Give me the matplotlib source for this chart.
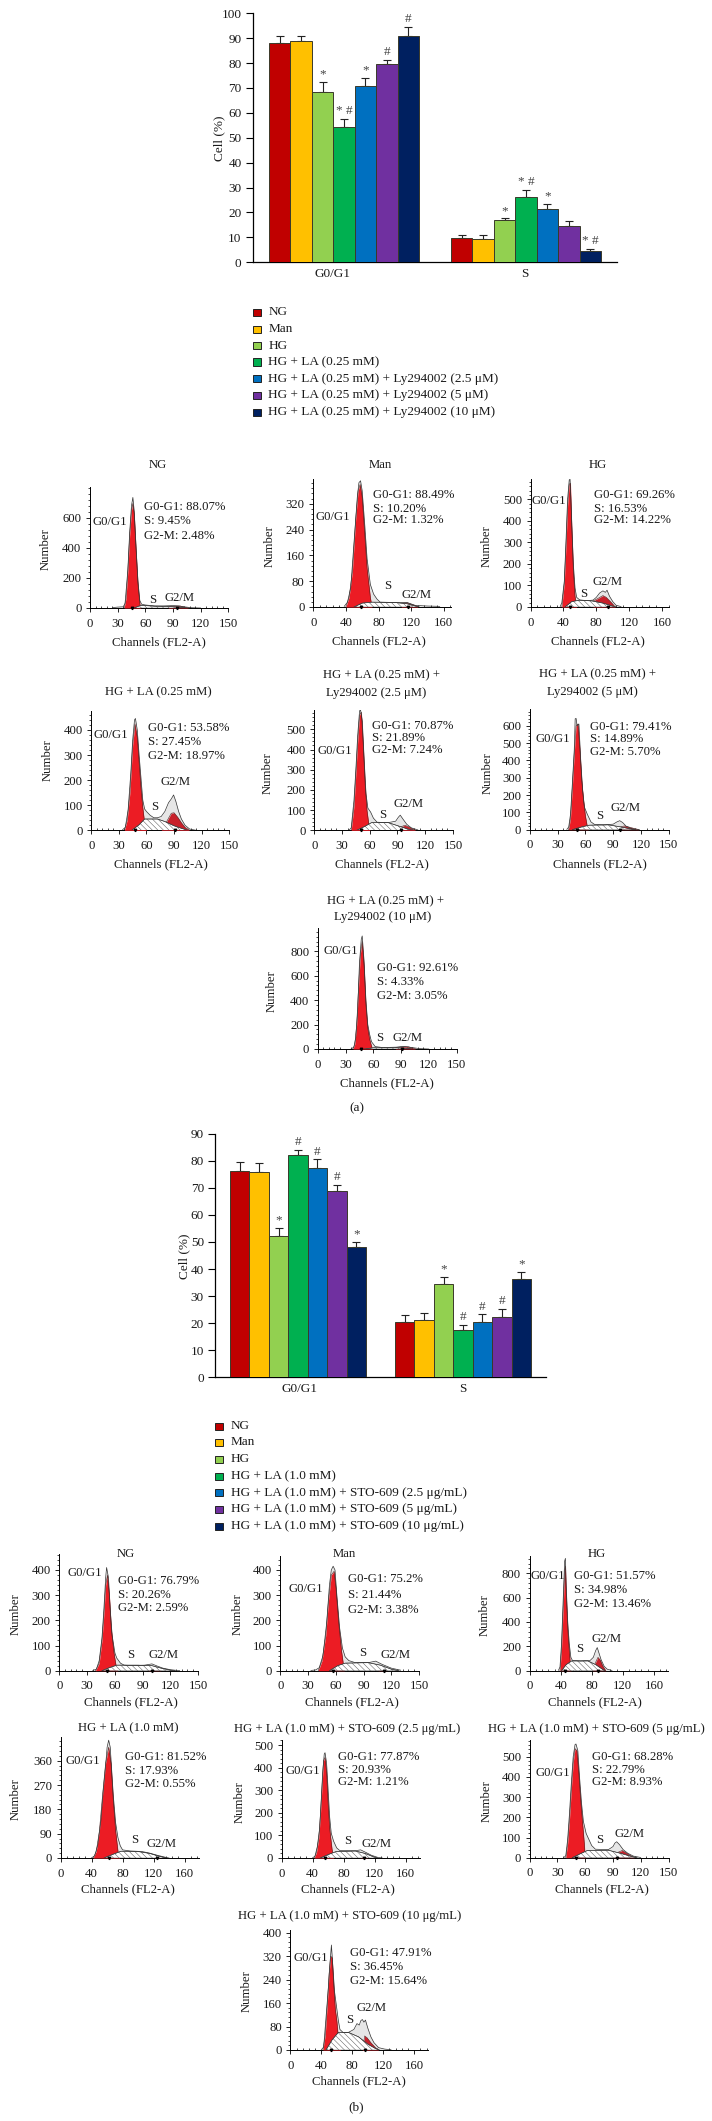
import matplotlib
matplotlib.use("Agg")
import matplotlib.pyplot as plt
from matplotlib.patches import Rectangle

plt.rcParams['font.family'] = ['Liberation Serif', 'DejaVu Serif']
plt.rcParams['hatch.linewidth'] = 0.35
W, H = 712, 2121
FS = 9.5
FS_HIST = 9.2
fig = plt.figure(figsize=(W / 100, H / 100), dpi=100, facecolor='white')

# ---------- data: bar charts ----------
bar_colors = ['#C00000', '#FFC000', '#92D050', '#00B050', '#0070C0', '#7030A0', '#002060']
groups = ['G0/G1', 'S']
a_g0 = [88, 89, 68.5, 54.5, 71, 79.5, 91]
a_g0_top = [91, 91, 72.5, 57.7, 74, 81.3, 94.5]
a_s = [9.8, 9.5, 16.8, 26.2, 21.3, 14.6, 4.7]
a_s_top = [10.9, 10.9, 17.6, 29, 23.4, 16.4, 5.4]
a_g0_marks = ['', '', '*', '* #', '*', '#', '#']
a_s_marks = ['', '', '*', '* #', '*', '', '* #']
a_legend = ['NG', 'Man', 'HG', 'HG + LA (0.25 mM)', 'HG + LA (0.25 mM) + Ly294002 (2.5 μM)',
            'HG + LA (0.25 mM) + Ly294002 (5 μM)', 'HG + LA (0.25 mM) + Ly294002 (10 μM)']
b_g0 = [76.3, 75.8, 52.3, 82, 77.2, 69, 48]
b_g0_top = [79.4, 79.2, 55, 84, 80.5, 71.2, 50]
b_s = [20.6, 21.3, 34.6, 17.4, 20.4, 22.2, 36.2]
b_s_top = [23.1, 23.6, 37, 19.4, 23.3, 25.4, 39]
b_g0_marks = ['', '', '*', '#', '#', '#', '*']
b_s_marks = ['', '', '*', '#', '#', '#', '*']
b_legend = ['NG', 'Man', 'HG', 'HG + LA (1.0 mM)', 'HG + LA (1.0 mM) + STO-609 (2.5 μg/mL)',
            'HG + LA (1.0 mM) + STO-609 (5 μg/mL)', 'HG + LA (1.0 mM) + STO-609 (10 μg/mL)']

# ---------- data: histograms (channel, count) ----------
a1_env = [(25,3),(30,6),(36,8),(38,30),(41,250),(43,500),(45,680),(46.5,735),(48,640),(50,400),(52,180),(54,50),(56,25),(60,20),(70,14),(80,14),(90,16),(96,14),(102,8),(110,2),(120,0)]
a1_g1 = [(37,0),(39,60),(41,240),(43,480),(45,650),(46.5,695),(48,620),(50,380),(52,160),(54,30),(55,0)]
a1_s = [(48,0),(55,18),(70,12),(85,10),(100,4),(105,0)]
a1_g2 = [(85,10),(92,12),(98,13),(103,5),(108,0)]
a2_env = [(38,2),(42,15),(46,60),(50,200),(54,340),(56,385),(58,391),(60,360),(63,260),(66,150),(70,70),(74,40),(78,25),(82,15),(100,14),(115,14),(125,5),(140,3),(155,2)]
a2_g1 = [(40,0),(44,30),(48,110),(52,270),(55,360),(57.5,380),(60,340),(63,230),(66,120),(70,30),(72,0)]
a2_s = [(50,0),(60,12),(72,15),(100,14),(115,10),(125,3),(130,0)]
a2_g2 = [(108,12),(115,13),(122,7),(128,2)]
a3_env = [(36,2),(38,20),(41,120),(43,300),(45,500),(47,590),(48,593),(50,400),(52,200),(54,90),(56,45),(60,32),(70,30),(76,32),(80,45),(84,65),(88,75),(91,68),(93,78),(96,50),(100,25),(104,8),(110,2)]
a3_g1 = [(38,0),(41,110),(43,280),(45,470),(47,570),(48.5,575),(50,380),(52,170),(54,50),(56,0)]
a3_s = [(42,0),(50,25),(60,32),(75,28),(88,18),(100,4),(104,0)]
a3_g2 = [(76,28),(82,40),(88,53),(92,45),(98,22),(103,0)]
a4_env = [(34,2),(37,12),(40,80),(43,230),(45,360),(47,440),(48,446),(50,400),(52,300),(54,210),(56,120),(58,85),(60,75),(64,60),(68,50),(72,50),(76,55),(80,75),(84,110),(87,125),(89.5,141),(92,115),(95,75),(98,45),(102,20),(107,5),(114,0)]
a4_g1 = [(36,0),(39,40),(42,150),(45,340),(47.5,425),(50,370),(52,270),(54,170),(56,90),(58,30),(60,0)]
a4_s = [(44,0),(52,22),(58,45),(72,45),(80,35),(90,18),(98,8),(105,0)]
a4_g2 = [(76,0),(82,35),(87,68),(90,70),(94,52),(98,30),(102,12),(107,0)]
a5_env = [(38,2),(40,12),(43,150),(45,300),(47,470),(49,590),(50,599),(52,540),(54,350),(56,180),(58,110),(61,90),(64,60),(68,40),(80,38),(88,45),(91,65),(93,75),(96,55),(100,30),(105,12),(112,2)]
a5_g1 = [(40,0),(43,120),(45,280),(47,440),(49,570),(51,585),(53,420),(55,230),(57,100),(59,30),(60,0)]
a5_s = [(46,0),(55,20),(62,38),(80,38),(92,20),(102,5),(108,0)]
a5_g2 = [(94,18),(98,25),(102,18),(106,8),(110,0)]
a6_env = [(40,2),(42,15),(44,90),(46,270),(48,460),(49,640),(50,642),(51,600),(53,610),(55,400),(57,230),(59,130),(62,90),(66,45),(70,30),(80,28),(90,32),(94,45),(97,52),(100,42),(104,20),(110,6),(118,1)]
a6_g1 = [(42,0),(44,70),(46,250),(48,440),(50,600),(52,610),(54,470),(56,290),(58,170),(60,80),(62,20),(63,0)]
a6_s = [(46,0),(56,16),(64,26),(85,28),(98,16),(110,3),(114,0)]
a6_g2 = [(98,16),(102,22),(108,14),(114,5),(118,0)]
a7_env = [(36,1),(39,15),(41,90),(43,300),(45,700),(47,900),(48,926),(50,720),(52,400),(54,200),(56,120),(58,60),(62,20),(70,12),(85,15),(92,22),(100,14),(110,3),(120,0)]
a7_g1 = [(38,0),(40,40),(42,200),(44,500),(46,780),(48,880),(50,680),(52,360),(54,170),(56,80),(59,0)]
a7_s = [(50,0),(60,10),(85,10),(95,6),(102,0)]
a7_g2 = [(84,10),(92,18),(98,18),(106,0)]
b1_env = [(36,1),(40,6),(43,40),(46,130),(48,240),(50,370),(51,410),(53,370),(55,240),(57,140),(60,70),(62,50),(66,30),(70,22),(80,20),(92,22),(100,27),(106,18),(112,10),(120,4),(130,0)]
b1_g1 = [(39,0),(43,30),(46,120),(48,220),(50,340),(52,380),(54,300),(56,170),(59,70),(61,25),(63,0)]
b1_s = [(46,0),(54,12),(62,22),(85,22),(100,20),(110,10),(120,2),(125,0)]
b1_g2 = [(95,0),(103,3),(110,0)]
b2_env = [(33,1),(38,3),(42,12),(46,60),(50,190),(53,340),(55,400),(57,415),(59,400),(61,300),(64,170),(67,90),(70,55),(74,40),(80,33),(95,32),(103,38),(110,25),(120,10),(130,2)]
b2_g1 = [(41,0),(45,40),(49,140),(52,280),(55,380),(58,395),(60,330),(63,190),(66,80),(69,0)]
b2_s = [(53,0),(62,20),(70,30),(95,32),(108,22),(120,6),(128,0)]
b2_g2 = [(105,0),(110,2),(115,0)]
b3_env = [(37,3),(39,30),(41,220),(43,560),(45,900),(46,923),(47,700),(49,400),(51,220),(53,110),(55,85),(65,80),(78,85),(82,110),(85,165),(87,190),(89,150),(92,90),(96,35),(100,12),(106,2)]
b3_g1 = [(39,0),(41,180),(43,500),(45,820),(46,860),(47,640),(49,340),(51,160),(53,0)]
b3_s = [(41,0),(47,50),(54,80),(75,80),(85,50),(93,15),(97,0)]
b3_g2 = [(81,0),(85,70),(88,110),(91,85),(94,40),(98,0)]
b4_env = [(40,1),(44,8),(48,50),(52,140),(55,250),(58,340),(60,410),(62,436),(64,410),(66,320),(68,230),(71,130),(74,75),(77,45),(80,30),(90,26),(105,24),(115,18),(125,10),(135,3),(140,0)]
b4_g1 = [(42,0),(46,25),(50,100),(54,230),(58,350),(62,410),(65,350),(68,210),(71,100),(74,25),(76,0)]
b4_s = [(56,0),(66,12),(78,25),(100,24),(115,17),(128,6),(137,0)]
b4_g2 = [(120,0),(125,1),(130,0)]
b5_env = [(40,1),(43,8),(46,50),(49,130),(51,250),(53,380),(55,460),(56,466),(58,420),(60,300),(62,180),(64,110),(67,75),(71,45),(75,33),(95,32),(102,36),(108,26),(116,12),(124,3),(130,0)]
b5_g1 = [(42,0),(45,25),(48,90),(50,190),(52,310),(54,430),(56,445),(58,380),(60,240),(62,130),(65,40),(67,0)]
b5_s = [(50,0),(60,15),(70,28),(95,31),(108,20),(118,6),(124,0)]
b5_g2 = [(100,0),(106,2),(112,0)]
b6_env = [(37,1),(39,10),(41,90),(43,220),(45,370),(47,500),(49,560),(50,563),(52,530),(54,390),(56,270),(58,180),(61,120),(64,90),(67,60),(71,42),(85,40),(90,55),(92,72),(94,79),(97,65),(101,40),(106,22),(112,8),(120,1)]
b6_g1 = [(39,0),(41,70),(43,190),(45,340),(47,470),(49,540),(51,530),(53,420),(55,290),(57,180),(59,70),(60,0)]
b6_s = [(46,0),(54,18),(62,35),(85,37),(98,22),(110,6),(116,0)]
b6_g2 = [(91,0),(96,28),(100,36),(105,22),(110,8),(113,0)]
b7_env = [(40,1),(43,10),(46,110),(49,210),(51,290),(53,358),(55,280),(57,200),(60,140),(62,100),(64,70),(68,60),(75,60),(82,70),(86,90),(89,85),(91,100),(93,104),(95,95),(97,102),(100,75),(104,45),(108,25),(114,8),(122,3),(130,1)]
b7_g1 = [(42,0),(45,50),(48,170),(50,260),(52,320),(54,315),(56,220),(58,140),(60,100),(62,40),(64.5,0)]
b7_s = [(46,0),(54,35),(62,60),(75,60),(88,45),(100,20),(110,5),(115,0)]
b7_g2 = [(93,0),(96,48),(99,42),(104,25),(110,8),(114,0)]

# ---------- layout helpers (pixel coordinates, origin top-left) ----------
def T(x, y, s, ha='center', va='center', size=FS, rotation=0, color='#1a1a1a'):
    fig.text(x / W, 1 - y / H, s, ha=ha, va=va, fontsize=size, rotation=rotation, color=color)

def make_ax(left, right, top, bottom):
    ax = fig.add_axes([left / W, 1 - bottom / H, (right - left) / W, (bottom - top) / H])
    ax.patch.set_alpha(0)
    for side in ['top', 'right']:
        ax.spines[side].set_visible(False)
    return ax

def bar_chart(left, right, top, y0, yT, yTval, ystep, x_first, bw, gap, g0, g0t, s, st, m0, ms, ylabel_xy, glabels_xy):
    ax = make_ax(left, right, top, y0)
    ax.set_ylim(0, yTval * (y0 - top) / (y0 - yT))
    ax.set_xlim((left - x_first) / bw, (right - x_first) / bw)
    for off, vals, tops, marks in [(0, g0, g0t, m0), (7 + gap, s, st, ms)]:
        xs = [off + i + 0.5 for i in range(7)]
        ax.bar(xs, vals, width=1, color=bar_colors, edgecolor='#3a3a2a', linewidth=0.7, zorder=3)
        for i, x in enumerate(xs):
            ax.errorbar(x, vals[i], yerr=[[0], [tops[i] - vals[i]]], color='#222222', lw=0.8,
                        capsize=3.2, capthick=0.8, zorder=2)
            if marks[i]:
                ax.annotate(marks[i], (x, tops[i]), xytext=(0, 5.5), textcoords='offset points',
                            ha='center', va='center', fontsize=FS, color='#444444')
    ax.spines['bottom'].set_linewidth(0.9)
    ax.spines['left'].set_linewidth(0.9)
    ax.set_xticks([])
    ticks = list(range(0, yTval + 1, ystep))
    ax.set_yticks(ticks)
    ax.set_yticklabels([str(t) for t in ticks], fontsize=FS, color='#1a1a1a')
    ax.tick_params(axis='y', length=5, width=0.8, pad=3)
    T(*ylabel_xy, 'Cell (%)', rotation=90)
    T(*glabels_xy[0], groups[0])
    T(*glabels_xy[1], groups[1])

def legend(xbox, xtext, rows, labels):
    for y, lab, col in zip(rows, labels, bar_colors):
        fig.add_artist(Rectangle((xbox / W, 1 - (y + 3.5) / H), 7.5 / W, 7 / H, transform=fig.transFigure,
                                 facecolor=col, edgecolor='#222222', linewidth=0.7))
        T(xtext, y, lab, ha='left')

def hist(geom, ymajor, env, g1, s, g2, marks, title_items, stats, stats_x, stats_y, g0g1, s_lab, g2m, ylab, xlab):
    x0, xT, xTval, xEnd, xstep, yb, yT, yTval, top = geom
    ax = make_ax(x0, xEnd, top, yb)
    ax.set_xlim(0, xTval * (xEnd - x0) / (xT - x0))
    ax.set_ylim(0, yTval * (yb - top) / (yb - yT))
    ex, ey = zip(*env)
    ax.fill_between(ex, ey, color='#e6e6e6', lw=0, zorder=1)
    ax.plot(ex, ey, color='#333333', lw=0.5, zorder=6)
    gx, gy = zip(*g1)
    ax.fill_between(gx, gy, color='#EC1C24', lw=0, zorder=3)
    ax.plot(gx, gy, color='#552222', lw=0.4, zorder=3)
    hx, hy = zip(*g2)
    ax.fill_between(hx, hy, color='#C8202A', lw=0, zorder=3)
    ax.plot(hx, hy, color='#552222', lw=0.4, zorder=3)
    # the S phase lies over the lower parts of both red peaks
    sx, sy = zip(*s)
    ax.fill_between(sx, sy, facecolor='white', edgecolor='#555555', hatch='\\\\\\\\\\\\', lw=0.3, zorder=4)
    ax.plot(sx, sy, color='#333333', lw=0.5, zorder=5)
    for m in marks:
        ax.plot([m], [0], marker='v', ms=1.8, color='black', clip_on=False, zorder=7, lw=0)
    ax.set_xticks(list(range(0, xTval + 1, xstep)))
    ax.set_xticks([v * xstep / 5 for v in range(0, int((ax.get_xlim()[1]) * 5 / xstep) + 1)], minor=True)
    yt = list(range(0, yTval + 1, ymajor))
    ax.set_yticks(yt)
    ax.set_yticks([v * ymajor / 5 for v in range(0, int(ax.get_ylim()[1] * 5 / ymajor) + 1)], minor=True)
    ax.tick_params(axis='both', which='major', length=2.6, width=0.6, labelsize=FS_HIST, labelcolor='#1a1a1a')
    ax.tick_params(axis='x', which='major', pad=4.4)
    ax.tick_params(axis='y', which='major', pad=3.6)
    ax.tick_params(axis='x', which='minor', length=1.3, width=0.5, direction='in')
    ax.tick_params(axis='y', which='minor', length=1.3, width=0.5, direction='out')
    for sp in ['left', 'bottom']:
        ax.spines[sp].set_linewidth(0.7)
    for (tx, ty, ts) in title_items:
        T(tx, ty, ts, size=FS_HIST)
    for line, y in zip(stats, stats_y):
        T(stats_x, y, line, ha='left', size=FS_HIST)
    T(*g0g1, 'G0/G1', size=FS_HIST)
    T(*s_lab, 'S', size=FS_HIST)
    T(*g2m, 'G2/M', size=FS_HIST)
    T(*ylab, 'Number', rotation=90, size=FS_HIST)
    T(*xlab, 'Channels (FL2-A)', size=FS_HIST)

# ---------- bars ----------
bar_chart(252.7, 616.7, 13.3, 262.3, 13.3, 100, 10, 269, 21.43, 1.49, a_g0, a_g0_top, a_s, a_s_top,
          a_g0_marks, a_s_marks, (219.3, 138), [(332.7, 273.7), (525, 273.7)])
legend(253.3, 268.3, [312.3, 329, 345.7, 362, 378.7, 395.3, 412.3], a_legend)
bar_chart(215, 545.7, 1120 + 41 / 3, 1377.3, 1133.7, 90, 10, 230, 19.43, 1.49, b_g0, b_g0_top, b_s, b_s_top,
          b_g0_marks, b_s_marks, (184.3, 1256), [(299.3, 1389), (462.7, 1389)])
legend(215, 230.7, [1426, 1442.3, 1459.3, 1476, 1492.7, 1509.3, 1526.3], b_legend)

# ---------- histograms ----------
hist((90, 228.3, 150, 228.3, 30, 608, 517.7, 600, 487.3), 200, a1_env, a1_g1, a1_s, a1_g2, [46, 94],
     [(157.5, 465.3, 'NG')], ['G0-G1: 88.07%', 'S: 9.45%', 'G2-M: 2.48%'], 144.3, [506.7, 521, 535.7],
     (109.6, 522.3), (152.5, 599.7), (180, 597.7), (45.7, 549), (159, 642.3))
hist((313.2, 443.8, 160, 451.1, 40, 607, 503.7, 320, 479.3), 80, a2_env, a2_g1, a2_s, a2_g2, [58, 116],
     [(380.4, 465.3, 'Man')], ['G0-G1: 88.49%', 'S: 10.20%', 'G2-M: 1.32%'], 373, [494.7, 509, 520.3],
     (333.3, 516.7), (388, 586), (416.4, 595), (270, 546), (379, 641))
hist((530.6, 662.1, 160, 669.4, 40, 607, 499.3, 500, 479.3), 100, a3_env, a3_g1, a3_s, a3_g2, [48, 94],
     [(598, 465.3, 'HG')], ['G0-G1: 69.26%', 'S: 16.53%', 'G2-M: 14.22%'], 593.6, [494.7, 508.7, 520.3],
     (549.3, 500.7), (584, 593.7), (607.3, 582), (486.8, 546), (597.7, 641))
hist((91.3, 229.2, 150, 229.2, 30, 830.3, 730, 400, 710.7), 100, a4_env, a4_g1, a4_s, a4_g2, [48, 91],
     [(158.4, 692.7, 'HG + LA (0.25 mM)')], ['G0-G1: 53.58%', 'S: 27.45%', 'G2-M: 18.97%'], 148.4, [728, 742, 755.7],
     (111, 734.7), (155, 806.7), (175.8, 781.7), (48, 760), (161, 864))
hist((314.2, 453, 150, 453, 30, 830.3, 729.3, 500, 710), 100, a5_env, a5_g1, a5_s, a5_g2, [51, 94],
     [(381.7, 675, 'HG + LA (0.25 mM) +'), (375.8, 693.3, 'Ly294002 (2.5 μM)')],
     ['G0-G1: 70.87%', 'S: 21.89%', 'G2-M: 7.24%'], 371.7, [725.7, 738, 750],
     (335, 751), (382.6, 815.3), (409, 803.7), (268, 772.7), (382, 864))
hist((529.7, 668.9, 150, 668.9, 30, 829.7, 725.7, 600, 709.3), 100, a6_env, a6_g1, a6_s, a6_g2, [51, 97],
     [(597.3, 674.7, 'HG + LA (0.25 mM) +'), (592.7, 692, 'Ly294002 (5 μM)')],
     ['G0-G1: 79.41%', 'S: 14.89%', 'G2-M: 5.70%'], 589.5, [726.7, 739.3, 752.3],
     (552.5, 739.3), (600, 815.7), (625.6, 808), (488, 772.7), (599.5, 864))
hist((317.8, 456.6, 150, 456.6, 30, 1049, 951.3, 800, 928.3), 200, a7_env, a7_g1, a7_s, a7_g2, [47, 91],
     [(385.8, 901, 'HG + LA (0.25 mM) +'), (382.6, 916.7, 'Ly294002 (10 μM)')],
     ['G0-G1: 92.61%', 'S: 4.33%', 'G2-M: 3.05%'], 377.2, [967.7, 982, 996.3],
     (341, 951), (380, 1038), (407.8, 1038), (272, 991), (386.8, 1083))
T(356.6, 1108.7, '(a)')

hist((59.4, 198.2, 150, 198.2, 30, 1670.7, 1570, 400, 1554), 100, b1_env, b1_g1, b1_s, b1_g2, [51, 100],
     [(126, 1553.7, 'NG')], ['G0-G1: 76.79%', 'S: 20.26%', 'G2-M: 2.59%'], 118.3, [1581, 1594.7, 1608.3],
     (84.5, 1572.7), (131, 1654.7), (163.5, 1654.7), (16, 1614.3), (130.6, 1702))
hist((280.4, 419.2, 150, 419.2, 30, 1670.7, 1570, 400, 1556), 100, b2_env, b2_g1, b2_s, b2_g2, [57, 112],
     [(344.7, 1553.7, 'Man')], ['G0-G1: 75.2%', 'S: 21.44%', 'G2-M: 3.38%'], 348.4, [1579.3, 1594.7, 1610],
     (305.5, 1589.3), (362.6, 1652.7), (395.9, 1654.7), (237.4, 1614.3), (351.6, 1702))
hist((529.7, 653.9, 160, 667.6, 40, 1670.7, 1573.3, 800, 1556), 200, b3_env, b3_g1, b3_s, b3_g2, [46, 88],
     [(596.8, 1553.7, 'HG')], ['G0-G1: 51.57%', 'S: 34.98%', 'G2-M: 13.46%'], 574, [1575.7, 1590, 1603.7],
     (547.5, 1575.7), (580, 1649), (606.8, 1639), (485, 1615), (595, 1702))
hist((60.7, 184.5, 160, 199.1, 40, 1858, 1760.7, 360, 1737.3), 90, b4_env, b4_g1, b4_s, b4_g2, [62, 125],
     [(128.3, 1728.7, 'HG + LA (1.0 mM)')], ['G0-G1: 81.52%', 'S: 17.93%', 'G2-M: 0.55%'], 124.7, [1757.3, 1770.7, 1784.3],
     (82.6, 1761), (135, 1839.7), (161.2, 1844.3), (16, 1799.3), (127.9, 1889))
hist((281.7, 405.5, 160, 420, 40, 1858, 1745, 500, 1740.3), 100, b5_env, b5_g1, b5_s, b5_g2, [56, 106],
     [(347.5, 1728.7, 'HG + LA (1.0 mM) + STO-609 (2.5 μg/mL)')], ['G0-G1: 77.87%', 'S: 20.93%', 'G2-M: 1.21%'], 338.4, [1757.3, 1769.7, 1782],
     (303.2, 1771), (347.5, 1840.7), (376.3, 1844.3), (239.3, 1802.3), (348, 1889))
hist((529.7, 668.5, 150, 668.5, 30, 1857.7, 1756.7, 500, 1740), 100, b6_env, b6_g1, b6_s, b6_g2, [50, 94],
     [(596.3, 1728.7, 'HG + LA (1.0 mM) + STO-609 (5 μg/mL)')], ['G0-G1: 68.28%', 'S: 22.79%', 'G2-M: 8.93%'], 592.2, [1757.3, 1769.7, 1782.3],
     (552.5, 1773.3), (600, 1840.3), (629.7, 1833.7), (486.8, 1800.7), (601.8, 1889))
hist((290.4, 414.2, 160, 428.3, 40, 2050, 1932.7, 400, 1930), 80, b7_env, b7_g1, b7_s, b7_g2, [53, 96],
     [(349.8, 1915.7, 'HG + LA (1.0 mM) + STO-609 (10 μg/mL)')], ['G0-G1: 47.91%', 'S: 36.45%', 'G2-M: 15.64%'], 350.2, [1952.7, 1967, 1981.3],
     (311, 1957.7), (349.3, 2020), (371.7, 2008), (247, 1991), (358.4, 2081))
T(356.6, 2107, '(b)')

fig.savefig('out.png', dpi=100, facecolor='white')
